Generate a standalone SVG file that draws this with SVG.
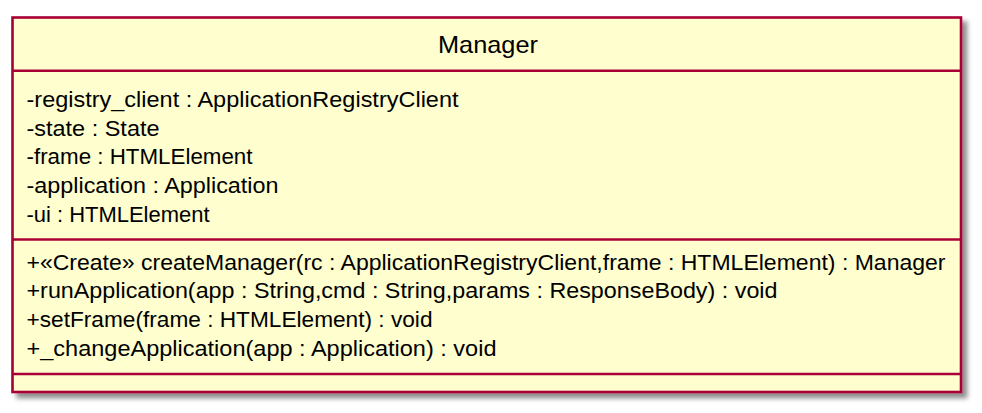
<svg xmlns="http://www.w3.org/2000/svg" width="982" height="413" viewBox="0 0 982 413">
<defs>
<filter id="shadow" x="-5%" y="-5%" width="110%" height="115%">
<feGaussianBlur in="SourceAlpha" stdDeviation="2.5" result="b"/>
<feOffset in="b" dx="5" dy="5" result="o"/>
<feComponentTransfer in="o" result="s"><feFuncA type="linear" slope="0.45"/></feComponentTransfer>
<feMerge><feMergeNode in="s"/><feMergeNode in="SourceGraphic"/></feMerge>
</filter>
<style>
.box{fill:#FEFECE;stroke:#A80036;stroke-width:2.6}
.sep{stroke:#A80036;stroke-width:2.6}
.t{font-family:"Liberation Sans",Arial,sans-serif;font-size:21.5px;fill:#000000}
.title{font-family:"Liberation Sans",Arial,sans-serif;font-size:24px;fill:#000000}
</style>
</defs>
<g id="connectors"></g>
<g id="Manager">
<rect class="box" x="12.5" y="17.5" width="948.5" height="374.5" filter="url(#shadow)"/>
<line class="sep" x1="12.5" y1="70.7" x2="961" y2="70.7"/>
<line class="sep" x1="12.5" y1="239.5" x2="961" y2="239.5"/>
<line class="sep" x1="12.5" y1="374" x2="961" y2="374"/>
<text class="title" x="438" y="53" textLength="100" lengthAdjust="spacingAndGlyphs">Manager</text>
<text class="t" x="26.5" y="106.5" textLength="432" lengthAdjust="spacingAndGlyphs">-registry_client : ApplicationRegistryClient</text>
<text class="t" x="26.5" y="135.5" textLength="133" lengthAdjust="spacingAndGlyphs">-state : State</text>
<text class="t" x="26.5" y="164.3" textLength="226" lengthAdjust="spacingAndGlyphs">-frame : HTMLElement</text>
<text class="t" x="26.5" y="193" textLength="252" lengthAdjust="spacingAndGlyphs">-application : Application</text>
<text class="t" x="26.5" y="221.8" textLength="183" lengthAdjust="spacingAndGlyphs">-ui : HTMLElement</text>
<text class="t" x="26.5" y="269.5" textLength="919" lengthAdjust="spacingAndGlyphs">+«Create» createManager(rc : ApplicationRegistryClient,frame : HTMLElement) : Manager</text>
<text class="t" x="26.5" y="298.2" textLength="751" lengthAdjust="spacingAndGlyphs">+runApplication(app : String,cmd : String,params : ResponseBody) : void</text>
<text class="t" x="26.5" y="326.8" textLength="406" lengthAdjust="spacingAndGlyphs">+setFrame(frame : HTMLElement) : void</text>
<text class="t" x="26.5" y="355.5" textLength="470" lengthAdjust="spacingAndGlyphs">+_changeApplication(app : Application) : void</text>
</g>
</svg>
